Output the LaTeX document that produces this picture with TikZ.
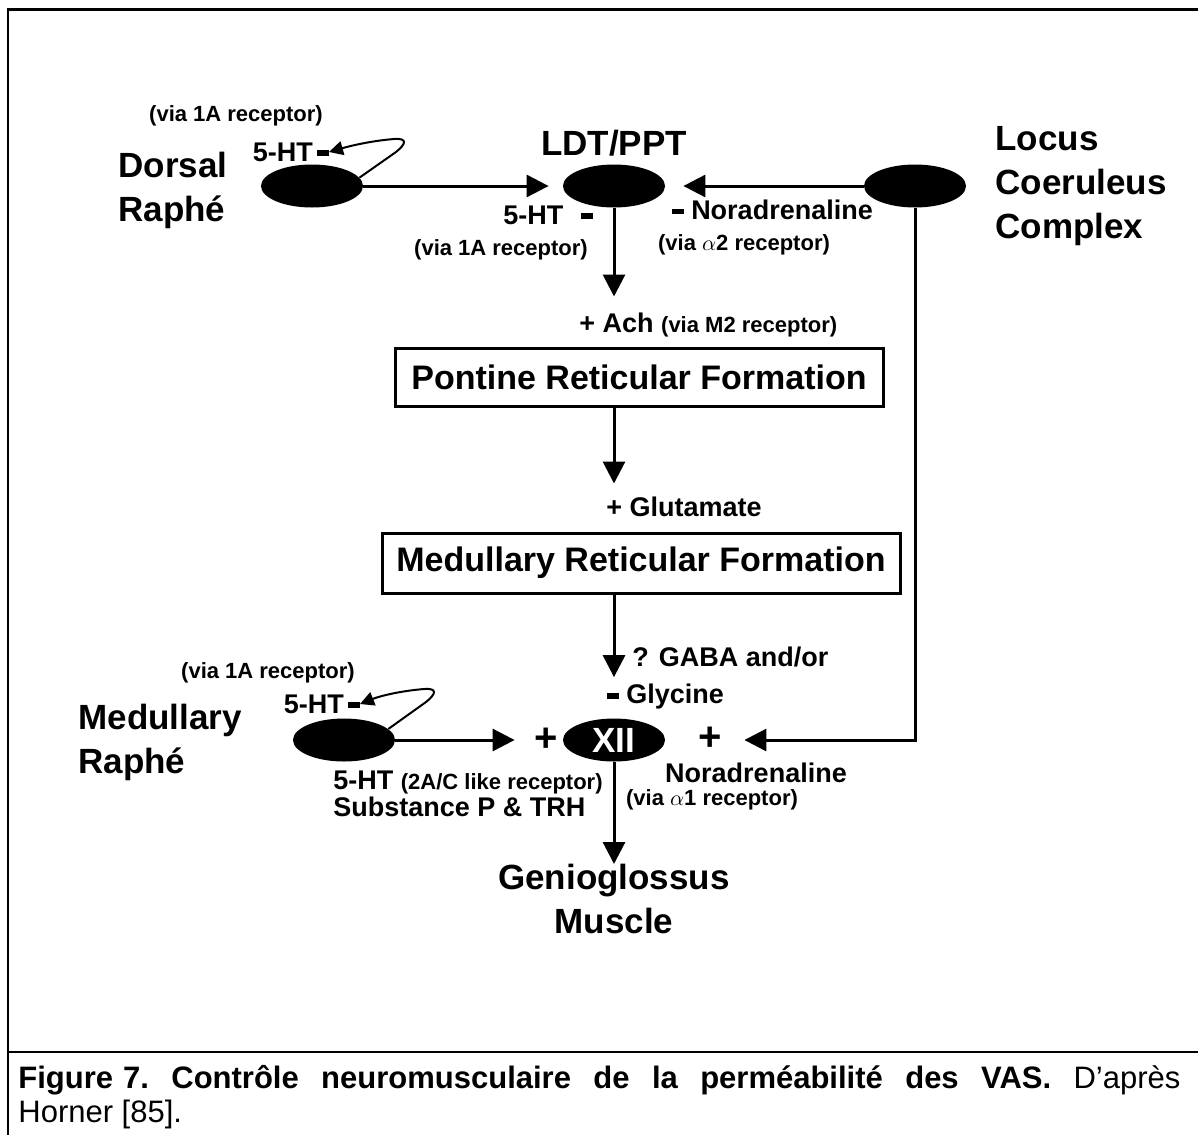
\documentclass[tikz,border=0pt]{standalone}
\usepackage{fontspec}
\setmainfont{Liberation Sans}
\usetikzlibrary{shapes.geometric,arrows.meta}
\newcommand{\lblbig}{\fontsize{17.5pt}{22pt}\selectfont\bfseries}
\newcommand{\lblbox}{\fontsize{17pt}{20pt}\selectfont\bfseries}
\newcommand{\lblmid}{\fontsize{13.5pt}{13.5pt}\selectfont\bfseries}
\newcommand{\lblsmall}{\fontsize{11pt}{13pt}\selectfont\bfseries}
\newcommand{\lblplus}{\fontsize{20pt}{22pt}\selectfont\bfseries}
\newcommand{\lblcap}{\fontsize{15.5pt}{17pt}\selectfont\frenchspacing}
\newcommand{\barsign}{\rule[0.2em]{0.42em}{0.2em}}

\begin{document}
\begin{tikzpicture}[x=0.5pt,y=-0.5pt,
	nucleus/.style={ellipse,fill=black,minimum width=51pt,minimum height=21.5pt,inner sep=0pt},
	region/.style={draw,line width=1.5pt,font=\lblbox,inner sep=0pt},
	arr/.style={line width=1.5pt,-{Triangle[length=11pt,width=11pt]}},
	looparr/.style={line width=1pt,-{Triangle[length=7pt,width=7pt]}},
	lbl/.style={inner sep=0pt}]
	\useasboundingbox (0,0) rectangle (1198,1135);
	\draw[line width=1.5pt] (7,9) -- (1198,9);
	\draw[line width=1pt] (8,9) -- (8,1135);
	\draw[line width=1pt] (8,1052) -- (1198,1052);

	\node(dr)[nucleus] at (312,186) {};
	\node(ldt)[nucleus] at (614,186) {};
	\node(lc)[nucleus] at (915,186) {};
	\node(prf)[region, minimum width=244pt, minimum height=29pt] at (639,377) {Pontine Reticular Formation};
	\node(mrf)[region, minimum width=259pt, minimum height=30pt] at (641,563) {Medullary Reticular Formation};
	\node(xii)[nucleus, text=white, font=\lblbig] at (614,740) {XII};
	\node(mr)[nucleus] at (344,740) {};
	\node(geni)[lbl, font=\lblbig, align=center, anchor=north] at (614,864) {Genioglossus\\Muscle};

	\node(drname)[lbl, font=\lblbig, align=left, anchor=west] at (118,190) {Dorsal\\Raphé};
	\node(drvia)[lbl, font=\lblsmall] at (236,116) {(via 1A receptor)};
	\node(drht)[lbl, font=\lblmid, anchor=east] at (329,152) {5-HT\,\barsign};
	\node(ldtname)[lbl, font=\lblbig] at (614,143) {LDT/PPT};
	\node(ldtht)[lbl, font=\lblmid, anchor=east] at (593,215) {5-HT\hspace{9pt}\barsign};
	\node(ldtvia)[lbl, font=\lblsmall] at (501,250) {(via 1A receptor)};
	\node(lcnor)[lbl, font=\lblmid, anchor=west] at (672,210) {\barsign\ Noradrenaline};
	\node(lcvia)[lbl, font=\lblsmall] at (744,245) {(via $\alpha$2 receptor)};
	\node(lcname)[lbl, font=\lblbig, align=left, anchor=west] at (995,186) {Locus\\Coeruleus\\Complex};
	\node(achlbl)[lbl, anchor=west] at (579,325) {\lblmid + Ach \lblsmall(via M2 receptor)};
	\node(glulbl)[lbl, font=\lblmid, anchor=west] at (606,507) {+ Glutamate};
	\node(gabalbl)[lbl, font=\lblmid, anchor=west] at (632,657) {? GABA and/or};
	\node(glylbl)[lbl, font=\lblmid, anchor=west] at (607,697) {\barsign\ Glycine};
	\node(plusl)[lbl, font=\lblplus] at (546,740) {+};
	\node(plusr)[lbl, font=\lblplus] at (710,739) {+};
	\node(xinor)[lbl, font=\lblmid] at (756,773) {Noradrenaline};
	\node(xivia)[lbl, font=\lblsmall] at (712,800) {(via $\alpha$1 receptor)};
	\node(mrname)[lbl, font=\lblbig, align=left, anchor=west] at (78,742) {Medullary\\Raphé};
	\node(mrvia)[lbl, font=\lblsmall] at (268,673) {(via 1A receptor)};
	\node(mrht)[lbl, font=\lblmid, anchor=east] at (360,704) {5-HT\,\barsign};
	\node(mrlbl)[lbl, font=\lblmid, align=left, anchor=west] at (333,794) {5-HT \lblsmall(2A/C like receptor)\\\lblmid Substance P \& TRH};

	\draw[arr, shorten >=7pt] (dr.east) -- (ldt.west);
	\draw[arr, shorten >=9pt] (lc.west) -- (ldt.east);
	\draw[arr, shorten >=25pt] (ldt.south) -- (prf.north -| ldt.south);
	\draw[arr, shorten >=24pt] (prf.south -| ldt.south) -- (mrf.north -| ldt.south);
	\draw[arr, shorten >=20.5pt] (mrf.south -| xii.north) -- (xii.north);
	\draw[arr, shorten >=24pt] (mr.east) -- (xii.west);
	\draw[arr, shorten >=39.5pt] (lc.south) |- (xii.east);
	\draw[arr] (xii.south) -- (geni.north);
	\draw[looparr] (dr.10) -- (396,152) .. controls (406,144) and (408,138) .. (394,139) .. controls (370,141) and (350,146) .. (drht.east);
	\draw[looparr] (mr.14) -- (426,702) .. controls (436,694) and (438,688) .. (424,689) .. controls (400,691) and (380,696) .. (mrht.east);

	\node(capa)[lbl, anchor=west] at (18,1080) {\lblcap\makebox[581pt][s]{\bfseries Figure\hspace{5pt}7. Contrôle neuromusculaire de la perméabilité des VAS.\mdseries\ D’après}};
	\node(capb)[lbl, anchor=west, font=\lblcap] at (18,1114) {Horner [85].};
\end{tikzpicture}
\end{document}
